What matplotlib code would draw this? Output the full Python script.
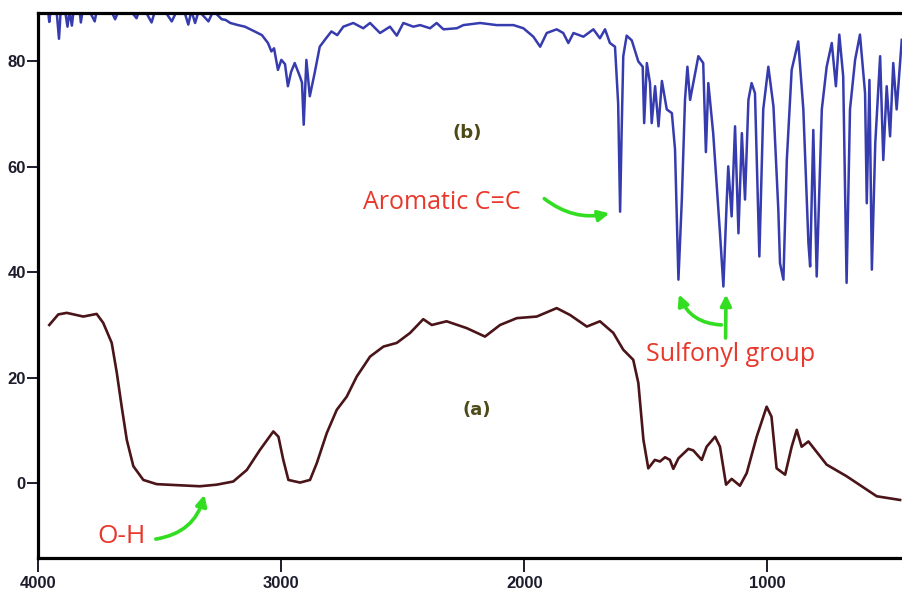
# -*- coding: utf-8 -*-

# FTIR spectra of (a) and (b)
import matplotlib.pyplot as plt

# wavenumber (cm-1) and transmittance
wnA = [3955, 3918, 3883, 3815, 3760, 3733, 3698, 3677, 3657, 3636,
       3609, 3568, 3513, 3403, 3335, 3266, 3198, 3142, 3088, 3033,
       3012, 2992, 2971, 2923, 2882, 2854, 2813, 2772, 2731, 2690,
       2635, 2580, 2525, 2470, 2416, 2381, 2320, 2237, 2162, 2100,
       2031, 1949, 1867, 1812, 1743, 1689, 1634, 1593, 1552, 1531,
       1510, 1490, 1463, 1442, 1421, 1401, 1387, 1366, 1325, 1305,
       1270, 1250, 1215, 1195, 1170, 1147, 1113, 1085, 1044, 1003,
       983, 962, 927, 900, 879, 859, 831, 756, 674, 550,
       454]
tA = [30.0, 32.0, 32.3, 31.6, 32.1, 30.4, 26.6, 20.9, 14.5, 8.2,
      3.2, 0.6, -0.2, -0.45, -0.6, -0.3, 0.3, 2.5, 6.3, 9.8,
      8.8, 4.4, 0.6, 0.1, 0.6, 3.8, 9.5, 13.9, 16.4, 20.2,
      24.0, 25.9, 26.6, 28.5, 31.1, 30.0, 30.7, 29.4, 27.8, 30.0,
      31.3, 31.6, 33.2, 31.9, 29.7, 30.7, 28.5, 25.3, 23.4, 19.0,
      8.2, 2.8, 4.4, 4.1, 4.9, 4.4, 2.7, 4.7, 6.5, 6.2,
      4.4, 6.9, 8.8, 6.9, -0.3, 0.8, -0.5, 1.9, 8.8, 14.5,
      12.6, 2.8, 1.6, 6.9, 10.1, 6.9, 7.9, 3.5, 1.3, -2.5,
      -3.2]

wnB = [3960, 3955, 3950, 3925, 3915, 3908, 3890, 3880, 3872, 3862,
       3855, 3830, 3825, 3818, 3790, 3768, 3760, 3740, 3700, 3684,
       3670, 3640, 3620, 3596, 3585, 3560, 3534, 3520, 3480, 3451,
       3430, 3400, 3383, 3370, 3355, 3340, 3300, 3280, 3245, 3230,
       3210, 3178, 3150, 3110, 3080, 3055, 3041, 3030, 3014, 3000,
       2985, 2973, 2960, 2945, 2924, 2915, 2908, 2897, 2883, 2863,
       2842, 2821, 2794, 2770, 2745, 2704, 2663, 2635, 2594, 2553,
       2525, 2498, 2457, 2429, 2388, 2361, 2333, 2278, 2251, 2182,
       2114, 2045, 2004, 1963, 1935, 1908, 1867, 1840, 1819, 1798,
       1757, 1716, 1689, 1668, 1648, 1627, 1614, 1606, 1600, 1593,
       1579, 1558, 1531, 1513, 1507, 1496, 1483, 1476, 1462, 1448,
       1434, 1414, 1393, 1380, 1366, 1352, 1339, 1329, 1318, 1305,
       1284, 1264, 1253, 1243, 1223, 1209, 1195, 1181, 1167, 1161,
       1147, 1133, 1119, 1105, 1092, 1078, 1065, 1051, 1033, 1017,
       996, 975, 955, 948, 934, 920, 900, 873, 852, 831,
       824, 811, 797, 776, 756, 735, 718, 704, 688, 674,
       660, 639, 619, 598, 591, 580, 570, 556, 536, 523,
       509, 495, 482, 468, 447]
tB = [89.6, 87.5, 89.6, 89.6, 84.3, 89.6, 89.6, 86.6, 89.6, 86.8,
      89.6, 89.6, 87.4, 89.6, 89.6, 87.6, 89.6, 89.6, 89.6, 88.0,
      89.6, 89.6, 89.6, 88.2, 89.6, 89.6, 87.4, 89.6, 89.6, 87.6,
      89.6, 89.6, 87.0, 89.6, 87.3, 89.6, 87.6, 89.6, 88.0, 87.9,
      87.3, 86.9, 86.6, 85.7, 85.0, 83.5, 81.9, 82.5, 78.4, 80.3,
      79.5, 75.3, 78.0, 79.7, 77.2, 76.0, 68.0, 80.3, 73.4, 77.8,
      82.8, 84.1, 85.7, 85.0, 86.6, 87.3, 86.3, 87.3, 85.4, 86.6,
      84.9, 87.3, 86.6, 86.9, 86.3, 87.3, 86.1, 86.3, 86.9, 87.3,
      86.9, 86.9, 86.3, 84.7, 82.8, 85.4, 86.1, 85.4, 83.5, 85.4,
      84.7, 86.1, 84.4, 86.1, 83.5, 82.8, 72.0, 51.5, 66.0, 81.0,
      84.9, 84.0, 80.0, 79.0, 68.3, 79.7, 75.9, 68.3, 75.3, 67.7,
      76.3, 70.9, 70.2, 63.3, 38.6, 53.8, 72.7, 79.0, 72.7, 75.9,
      81.0, 79.7, 62.8, 75.9, 66.4, 56.9, 47.4, 37.3, 53.8, 60.1,
      50.6, 67.7, 47.4, 66.4, 53.8, 72.7, 75.9, 74.0, 43.0, 70.9,
      79.0, 71.5, 51.9, 41.7, 38.6, 61.3, 78.4, 83.8, 70.9, 45.5,
      41.1, 67.0, 39.2, 70.9, 79.0, 83.5, 75.3, 85.1, 77.2, 38.0,
      70.9, 80.3, 85.1, 74.0, 53.1, 76.5, 40.5, 64.5, 81.0, 61.3,
      75.3, 65.8, 79.7, 70.9, 84.1]

xTicks = [4000, 3000, 2000, 1000]
yTicks = [0, 20, 40, 60, 80]

red = '#e8382c'
green = '#33dd22'

plt.close('all')
fig = plt.figure(figsize=(9.02, 5.98), dpi=100)
ax = fig.add_axes([0.0425, 0.067, 0.9575, 0.9113])

ax.plot(wnB, tB, color='#363cae', lw=1.8)
ax.plot(wnA, tA, color='#4a1418', lw=1.9)

ax.set_xlim(4000, 446)
ax.set_ylim(-14.2, 89.2)
ax.set_xticks(xTicks)
ax.set_yticks(yTicks)
ax.tick_params(axis='both', direction='out', width=1.4, labelsize=12, colors='#1c1c2c')
ax.tick_params(axis='x', length=10, pad=3)
ax.tick_params(axis='y', length=8, pad=1)
for lab in ax.get_xticklabels() + ax.get_yticklabels():
    lab.set_fontweight('bold')
    lab.set_family('Liberation Sans')
for s in ['left', 'bottom', 'top']:
    ax.spines[s].set_linewidth(2.3)
ax.spines['right'].set_visible(False)

# sample labels
ax.text(2236, 66.5, '(b)', fontsize=13, fontweight='bold', color='#4e4a18', ha='center', va='center')
ax.text(2195, 13.9, '(a)', fontsize=13, fontweight='bold', color='#4e4a18', ha='center', va='center')

# band annotations
ax.text(2338, 53.2, 'Aromatic C=C', fontsize=18, color=red, family='Open Sans', ha='center', va='center')
ax.text(1150, 24.4, 'Sulfonyl group', fontsize=18, color=red, family='Open Sans', ha='center', va='center')
ax.text(3659, -10.2, 'O-H', fontsize=19, color=red, family='Open Sans', ha='center', va='center')

arr = dict(arrowstyle='-|>', color=green, lw=2.6, mutation_scale=16)
ax.annotate('', xy=(1639, 51.3), xytext=(1927, 54.3),
            arrowprops=dict(arr, connectionstyle='arc3,rad=0.25'))
ax.annotate('', xy=(1170, 36.3), xytext=(1172, 27.0), arrowprops=arr)
ax.annotate('', xy=(1368, 36.3), xytext=(1178, 30.0),
            arrowprops=dict(arr, connectionstyle='arc3,rad=-0.35'))
ax.annotate('', xy=(3314, -1.7), xytext=(3528, -10.7),
            arrowprops=dict(arr, connectionstyle='arc3,rad=0.35'))

plt.savefig('out.png', dpi=100)
